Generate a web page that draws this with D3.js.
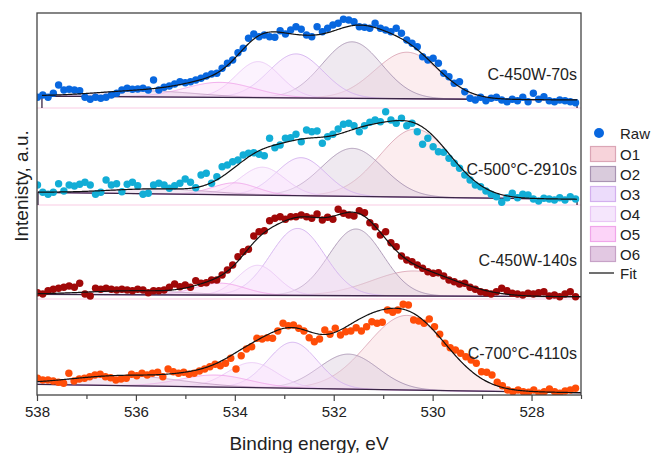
<!DOCTYPE html>
<html>
<head>
<meta charset="utf-8">
<script src="https://cdn.jsdelivr.net/npm/d3@7"></script>
<style>
  body { margin: 0; background: #fff; }
  svg { display: block; font-family: "Liberation Sans", Arial, Helvetica, sans-serif; }
</style>
</head>
<body>
<div id="chart"></div>
<script>
// spectra, top to bottom
const samples = ['C-450W-70s', 'C-500°C-2910s', 'C-450W-140s', 'C-700°C-4110s'];
const sampleColors = ['#0867df', '#12add6', '#a00808', '#ff4d08'];

// stacking offset of each spectrum (a.u., at 527 eV) and rise of the background up to 538 eV
const baseOffset = [295, 195.7, 98.3, 2.3];
const bgRise = [4, 7, 2.4, 8.4];
const panelFloor = [287, 190, 96];
// energy where the fitted range of each spectrum starts / stops
const fitStart = [537.9, 537.98, 538, 538];
const fitStop = [527.08, 527.08, 527, 527];

const energyTicks = [538, 536, 534, 532, 530, 528];
const minorTicks = [537, 535, 533, 531, 529, 527];

// raw counts above the stacking offset, from 537.99 eV down to 527.11 eV
const rawStart = 537.99;
const rawEnd = 527.11;
const raw1 = [2.7, 5, 2.7, 6.7, 15, 10, 10.7, 10, 9.3, 2.7, 0.7, 2.7, 1.7, 2.7, 5, 6.7, 10, 11.7, 10.7, 11,
  11.7, 10, 20, 10, 12.7, 14, 16, 18.3, 17.3, 18.3, 20, 21.7, 24, 26, 26.7, 31.7, 36.7, 40, 47.3, 51.7,
  61.7, 66, 63.3, 65, 63.3, 62.7, 69.3, 66, 70, 73.3, 70.7, 65, 63.3, 73.3, 68.3, 71.7, 75, 76.7, 80.7, 80,
  78.3, 73.3, 72.7, 71.7, 76.7, 71.7, 70, 68.3, 71.7, 66.7, 60, 56.7, 53.3, 43.3, 40, 41.7, 36.7, 26.7, 23.3, 16.7,
  18.3, 8.3, 1.7, 0, 2.7, -0.7, 1.7, 2.7, 0, -1.7, 0.7, -0.7, 2.7, -1.7, 6.7, 0.7, 3.3, -0.7, -1.7, 0,
  -0.7, -1.7, -2.7];
const raw2 = [14.3, 7, 5, 7, 15.6, 8.3, 14.3, 13.3, 15, 17, 14.3, 5, 7, 19.3, 14.3, 15.6, 7.6, 15, 17, 13.6,
  5, 6, 14.3, 16, 14.3, 11, 13.6, 16, 20.3, 17, 11.6, 24.3, 26, 16, 22.6, 32.6, 34.3, 37.6, 39.3, 44.3,
  46, 46.6, 45, 43.6, 61, 51.6, 54.3, 61, 61.6, 65, 57.6, 69.3, 67.6, 68.3, 56, 62.6, 65, 70.3, 75, 76,
  73.6, 67.6, 73.6, 77, 79.3, 77.6, 87.6, 79.3, 76, 81, 73.6, 76, 67.6, 55, 61, 52.6, 47.6, 47, 41, 36,
  31, 24.3, 19.3, 14.3, 12.6, 8.3, 5, 2.6, -3, 1.6, 6, 1.6, 5, 4.3, 0.3, -1.7, 1, 0.3, -0.7, 1.6,
  -0.7, 2.6, 0.3];
const raw3 = [4, 2.7, 6, 7.4, 8.4, 9.4, 10.7, 9.4, 13.4, 2.7, 0.7, 8.4, 7.4, 8.4, 7.4, 6.7, 7.4, 6.7, 6, 7.4,
  6.7, 4, 6, 6, 6.7, 9.4, 12.7, 10, 11.7, 9.4, 16, 13.4, 14, 16.7, 16.7, 21.7, 26.7, 31.7, 40, 45,
  47.4, 60.7, 65, 66, 76, 78.4, 80, 77.4, 80, 80, 81.7, 80, 78.4, 82.7, 76.7, 79.4, 77.4, 87.4, 83.4, 81.7,
  80.7, 86, 84, 74, 70, 61.7, 65, 54, 50, 40.7, 36.7, 35, 31.7, 28.4, 25, 23.4, 24, 20.7, 16.7, 15,
  12.7, 13.4, 9.4, 7.4, 5, 4, 2.7, 5, 8.4, 6, 3.4, 2.7, 1.7, 3.4, 2.7, 4, 5, 0.7, 1.7, 0,
  2.7, 5, 0];
const raw4 = [14.4, 12.7, 12.7, 11.7, 10.4, 9.4, 19.4, 11.7, 13.7, 14.4, 16, 17.7, 18.4, 16, 15, 12.7, 13.7, 14.4, 18.4, 17,
  19.4, 17.7, 19.4, 20.4, 16, 23.7, 21, 19.4, 20.4, 18.4, 19.4, 21.7, 23.7, 26, 28.4, 27, 29.4, 34.4, 23.7, 37,
  43.7, 46, 54.4, 53.7, 55, 54.4, 61.7, 69.4, 67, 67.7, 64.4, 61.7, 55, 51, 53.7, 62.7, 58.4, 64.4, 57.7, 61,
  61.7, 65, 61.7, 66, 71, 69.4, 70.4, 82.7, 80.4, 82.7, 88.4, 87.7, 72.7, 71.7, 69.4, 73.7, 66, 58.4, 49.4, 45,
  42.7, 39.4, 36, 32.7, 29.4, 21, 20.4, 17.7, 10.4, 7, 2.7, 1, 2.7, 1, 0.4, 2.7, -0.6, 1, 3.7, 1,
  -0.6, 1.7, 2.7, 4.4];
const rawSeries = [raw1, raw2, raw3, raw4];

// fitted components O1..O6: centre (eV), height (a.u.), sigma (eV)
const componentNames = ['O1', 'O2', 'O3', 'O4', 'O5', 'O6'];
const peakCenter = [
  [530.52, 531.63, 532.76, 533.53, 534.3, 535.8],
  [530.35, 531.62, 532.66, 533.44, 534.0, 535.5],
  [530.38, 531.55, 532.73, 533.54, 534.3, 536.0],
  [530.52, 531.7, 532.83, 533.65, 534.4, 536.2]
];
const peakHeight = [
  [46.5, 56.5, 44, 36, 15, 6],
  [68, 48, 38, 28, 12, 5],
  [25, 66.7, 67, 30, 12, 4],
  [74.6, 35, 46, 25, 12, 10]
];
const peakSigma = [
  [0.65, 0.6, 0.55, 0.45, 0.7, 1.0],
  [0.72, 0.62, 0.5, 0.45, 0.45, 1.0],
  [0.85, 0.55, 0.55, 0.4, 0.5, 1.0],
  [0.8, 0.6, 0.5, 0.5, 0.7, 1.1]
];
const componentFill = ['#f7d3da', '#d9cbdc', '#ecdcfb', '#f5e6fc', '#fcd4f8', '#e2c8e2'];
const componentArea = ['#f7d3da', '#d9cbdc', '#f6dcfa', '#f8e2fc', '#fcd4f8', '#e2c8e2'];
const componentStroke = ['#dba6b6', '#a994b3', '#d3b0ee', '#e9c6f5', '#f0a6ea', '#c7a2c7'];

const labelLevel = [20, 24, 31, 34];

const width = 651;
const height = 453;

const x = d3.scaleLinear().domain([538, 527]).range([37, 581]);
const y = d3.scaleLinear().domain([0, 382]).range([395, 13]);

const svg = d3.select('#chart')
  .append('svg')
  .attr('width', width)
  .attr('height', height);

svg.append('defs').append('clipPath')
  .attr('id', 'plot-clip')
  .append('rect')
  .attr('x', x(538))
  .attr('y', y(382))
  .attr('width', x(527) - x(538))
  .attr('height', y(0) - y(382));

const plot = svg.append('g').attr('clip-path', 'url(#plot-clip)');

function background(p, e) {
  return baseOffset[p] + bgRise[p] * (e - 527) / 11;
}

function gauss(p, k, e) {
  const z = (e - peakCenter[p][k]) / peakSigma[p][k];
  return peakHeight[p][k] * Math.exp(-0.5 * z * z);
}

// separators between stacked spectra
plot.append('g')
  .selectAll('line')
  .data(panelFloor)
  .enter().append('line')
  .attr('x1', x(538))
  .attr('x2', x(527))
  .attr('y1', d => y(d))
  .attr('y2', d => y(d))
  .attr('stroke', '#fbdcec')
  .attr('stroke-width', 1.5);

samples.forEach((name, p) => {
  const g = plot.append('g');
  const grid = d3.range(fitStart[p], fitStop[p] - 0.001, -0.02);

  const area = d3.area()
    .x(d => x(d.e))
    .y0(d => y(d.b))
    .y1(d => y(d.b + d.v));
  const line = d3.line()
    .x(d => x(d.e))
    .y(d => y(d.b + d.v));

  // component areas
  componentNames.forEach((c, k) => {
    const pts = grid.map(e => ({ e: e, b: background(p, e), v: gauss(p, k, e) }));
    g.append('path')
      .datum(pts)
      .attr('d', area)
      .attr('fill', componentArea[k])
      .attr('fill-opacity', 0.42);
    g.append('path')
      .datum(pts)
      .attr('d', line)
      .attr('fill', 'none')
      .attr('stroke', componentStroke[k])
      .attr('stroke-opacity', 0.9)
      .attr('stroke-width', 1);
  });

  // background, dropping to the panel floor at the ends of the fitted range
  const floor = p < panelFloor.length ? panelFloor[p] : null;
  const bgPts = [[fitStart[p], background(p, fitStart[p])], [fitStop[p], background(p, fitStop[p])]];
  if (floor !== null && p < 2) {
    bgPts.unshift([fitStart[p], floor]);
    bgPts.push([fitStop[p], floor]);
  }
  g.append('path')
    .datum(bgPts)
    .attr('d', d3.line().x(d => x(d[0])).y(d => y(d[1])))
    .attr('fill', 'none')
    .attr('stroke', '#3a2546')
    .attr('stroke-width', 1.3);

  // raw points
  const raw = rawSeries[p];
  const step = (rawStart - rawEnd) / (raw.length - 1);
  g.append('g')
    .selectAll('circle')
    .data(raw)
    .enter().append('circle')
    .attr('cx', (d, i) => x(rawStart - i * step))
    .attr('cy', d => y(baseOffset[p] + d))
    .attr('r', 3.7)
    .attr('fill', sampleColors[p]);

  // fit envelope
  const fit = grid.map(e => {
    let v = background(p, e);
    componentNames.forEach((c, k) => { v += gauss(p, k, e); });
    return { e: e, v: v };
  });
  g.append('path')
    .datum(fit)
    .attr('d', d3.line().x(d => x(d.e)).y(d => y(d.v)))
    .attr('fill', 'none')
    .attr('stroke', '#111')
    .attr('stroke-width', 1.2);

  g.append('text')
    .attr('x', x(527) - 4)
    .attr('y', y(baseOffset[p] + labelLevel[p]))
    .attr('text-anchor', 'end')
    .attr('font-size', '16px')
    .attr('fill', '#222')
    .text(name);
});

// frame
svg.append('rect')
  .attr('x', x(538))
  .attr('y', y(382))
  .attr('width', x(527) - x(538))
  .attr('height', y(0) - y(382))
  .attr('fill', 'none')
  .attr('stroke', '#444')
  .attr('stroke-width', 1.3);

// x axis
const xAxis = svg.append('g')
  .attr('transform', `translate(0,${y(0)})`)
  .call(d3.axisBottom(x).tickValues(energyTicks).tickSize(6).tickSizeOuter(0).tickPadding(5).tickFormat(d3.format('d')));
xAxis.select('.domain').remove();
xAxis.selectAll('line').attr('stroke', '#444').attr('stroke-width', 1.2);
xAxis.selectAll('text').attr('font-size', '15px').attr('fill', '#222').attr('font-family', null);

const xMinor = svg.append('g')
  .attr('transform', `translate(0,${y(0)})`)
  .call(d3.axisBottom(x).tickValues(minorTicks).tickSize(4).tickSizeOuter(0).tickFormat(''));
xMinor.select('.domain').remove();
xMinor.selectAll('line').attr('stroke', '#444').attr('stroke-width', 1.2);

svg.append('text')
  .attr('x', (x(538) + x(527)) / 2)
  .attr('y', 450)
  .attr('text-anchor', 'middle')
  .attr('font-size', '19px')
  .attr('fill', '#222')
  .text('Binding energy, eV');

svg.append('text')
  .attr('transform', 'translate(28,186) rotate(-90)')
  .attr('text-anchor', 'middle')
  .attr('font-size', '19px')
  .attr('fill', '#222')
  .text('Intenisty, a.u.');

// legend
const legend = svg.append('g').attr('transform', 'translate(590,133)');
const rowH = 20;

legend.append('circle')
  .attr('cx', 9)
  .attr('cy', 0)
  .attr('r', 5)
  .attr('fill', sampleColors[0]);
legend.append('text')
  .attr('x', 30)
  .attr('y', 5.5)
  .attr('font-size', '15px')
  .attr('fill', '#222')
  .text('Raw');

const rows = legend.selectAll('g.row')
  .data(componentNames)
  .enter().append('g')
  .attr('class', 'row')
  .attr('transform', (d, i) => `translate(0,${(i + 1) * rowH + 1})`);
rows.append('rect')
  .attr('x', 0.5)
  .attr('y', -7.5)
  .attr('width', 25)
  .attr('height', 15)
  .attr('fill', (d, i) => componentFill[i])
  .attr('stroke', (d, i) => componentStroke[i])
  .attr('stroke-width', 1.2);
rows.append('text')
  .attr('x', 30)
  .attr('y', 5.5)
  .attr('font-size', '15px')
  .attr('fill', '#222')
  .text(d => d);

legend.append('line')
  .attr('x1', -1)
  .attr('x2', 24)
  .attr('y1', 7 * rowH)
  .attr('y2', 7 * rowH)
  .attr('stroke', '#111')
  .attr('stroke-width', 1.2);
legend.append('text')
  .attr('x', 30)
  .attr('y', 7 * rowH + 5.5)
  .attr('font-size', '15px')
  .attr('fill', '#222')
  .text('Fit');
</script>
</body>
</html>
